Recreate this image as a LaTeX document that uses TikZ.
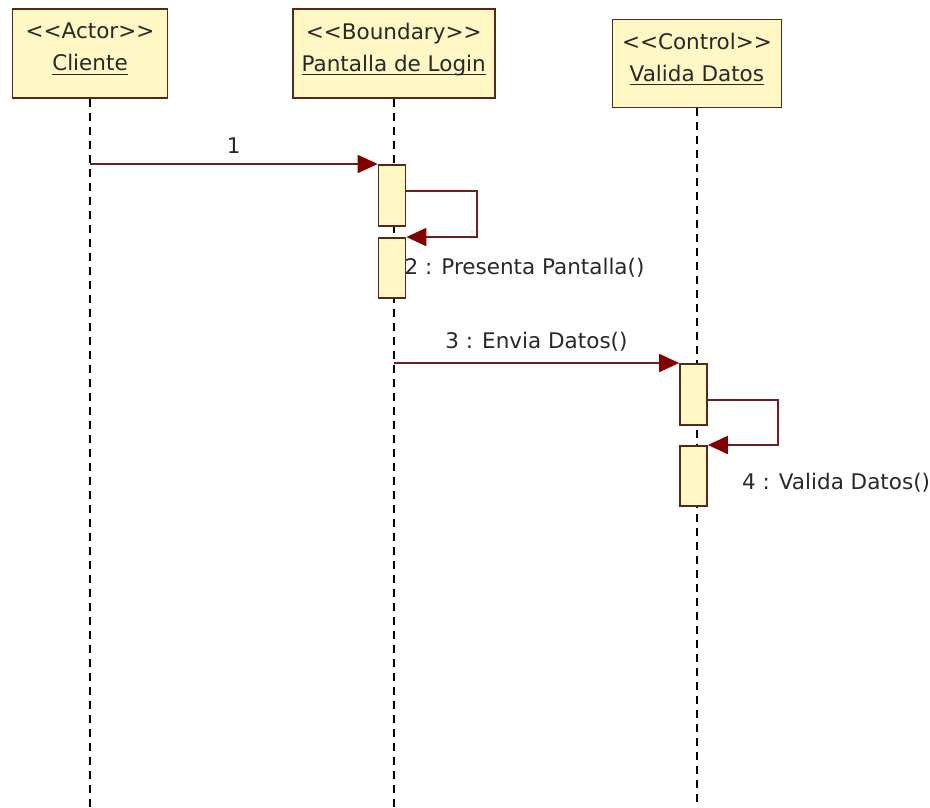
\documentclass[tikz,border=0pt]{standalone}
\usepackage{fontspec}
\setmainfont{DejaVu Sans}
\usepackage{tikz}
\usetikzlibrary{arrows.meta, positioning}
\definecolor{boxfill}{RGB}{255,247,196}
\definecolor{boxdraw}{RGB}{85,40,25}
\definecolor{msgline}{RGB}{115,30,30}
\definecolor{tipred}{RGB}{130,0,0}
\definecolor{txtdark}{RGB}{40,40,40}
\newcommand{\lifename}[1]{\setbox0\hbox{#1}\rlap{\color{txtdark}\rule[-4pt]{\wd0}{1.2pt}}\box0}
\tikzset{
  head/.style={rectangle, draw=boxdraw, fill=boxfill, text=txtdark,
    align=center, minimum height=89pt, inner sep=0pt, text depth=13pt, line width=1.7pt},
  act/.style={rectangle, draw=boxdraw, fill=boxfill,
    minimum width=27pt, inner sep=0pt, line width=1.7pt},
  lifeline/.style={line width=1.9pt, color=black, dash pattern=on 8pt off 6pt},
  msg/.style={-{Triangle[length=20pt, width=18pt, color=tipred]}, line width=1.8pt, color=msgline},
  msglabel/.style={text=txtdark, inner sep=1pt}
}

\begin{document}
\begin{tikzpicture}[x=1pt, y=-1pt, font=\fontsize{21.5}{32}\selectfont]
  \useasboundingbox (0,0) rectangle (930,807);
  \coordinate (bot) at (0,807);

  % lifeline heads
  \node[head, minimum width=155pt] (cli) at (90,53.5) {<{}<Actor>{}>\\\lifename{Cliente}};
  \node[head, minimum width=202pt, right=123.5pt of cli] (pant) {<{}<Boundary>{}>\\\lifename{Pantalla de Login}};
  \node[head, minimum width=169pt, minimum height=88pt, right=116pt of pant, yshift=-10pt] (val) {<{}<Control>{}>\\\lifename{Valida Datos}};

  \draw[lifeline] (cli.south) -- (cli.south |- bot);
  \draw[lifeline] (pant.south) -- (pant.south |- bot);
  \draw[lifeline] (val.south) -- (val.south |- bot);

  % activations
  \node[act, minimum height=61pt, anchor=north] (a1) at (392,164) {};
  \node[act, minimum height=60pt, anchor=north] (a2) at (392,237) {};
  \node[act, minimum height=61pt, anchor=north] (a3) at (693.5,363) {};
  \node[act, minimum height=60pt, anchor=north] (a4) at (693.5,445) {};

  % messages
  \draw[msg] (cli.south |- a1.north) -- node[msglabel, above=9pt] (m1) {1} (a1.north west);
  \draw[msg] ([yshift=-27pt]a1.north east) -- ++(71,0) |- (a2.north east);
  \node[msglabel, anchor=west] (m2) at ([xshift=-3pt]a2.east) {2 : Presenta Pantalla()};
  \draw[msg] (pant.south |- a3.north) -- node[msglabel, above=10pt] (m3) {3 : Envia Datos()} (a3.north west);
  \draw[msg] ([yshift=-37pt]a3.north east) -- ++(70,0) |- (a4.north east);
  \node[msglabel, right=33pt of a4, yshift=-7pt] (m4) {4 : Valida Datos()};
\end{tikzpicture}
\end{document}
